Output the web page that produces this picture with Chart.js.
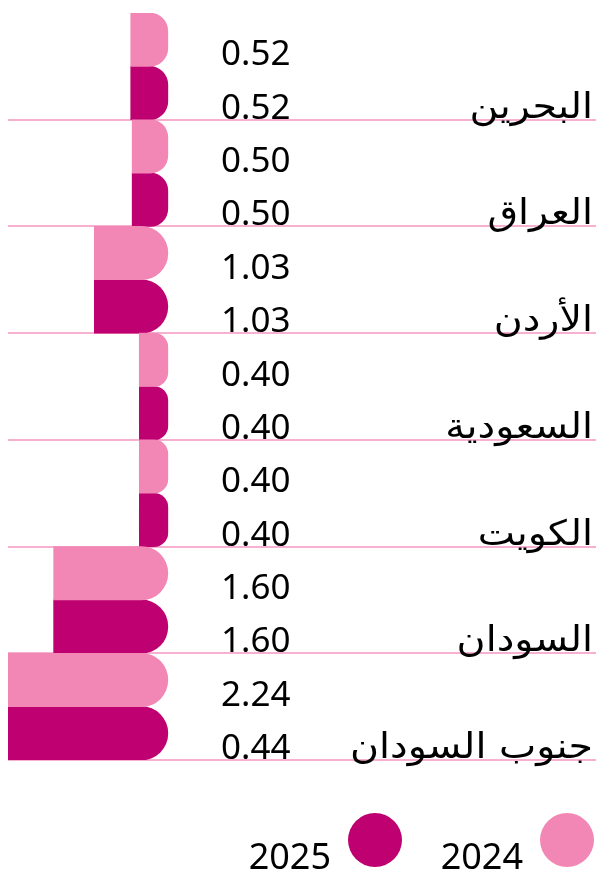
<!DOCTYPE html>
<html lang="ar">
<head>
<meta charset="utf-8">
<script src="https://cdn.jsdelivr.net/npm/chart.js@4/dist/chart.umd.min.js"></script>
<style>
  body { margin: 0; background: #fff; }
  #wrap { width: 596px; height: 870px; position: relative; }
</style>
</head>
<body>
<div id="wrap"><canvas id="mycanvas"></canvas></div>
<script>
// countries, top to bottom
var countries = ['البحرين', 'العراق', 'الأردن', 'السعودية', 'الكويت', 'السودان', 'جنوب السودان'];
var years = ['2024', '2025'];
// bar lengths as drawn
var values2024 = [0.52, 0.50, 1.03, 0.40, 0.40, 1.60, 2.24];
var values2025 = [0.52, 0.50, 1.03, 0.40, 0.40, 1.60, 2.24];
// printed numbers (last 2025 label differs from its bar in the source)
var text2024 = ['0.52', '0.50', '1.03', '0.40', '0.40', '1.60', '2.24'];
var text2025 = ['0.52', '0.50', '1.03', '0.40', '0.40', '1.60', '0.44'];

var pink = '#f287b5';
var magenta = '#be0070';
var gridPink = '#f7b0d0';
var fontFam = '"Noto Sans", "DejaVu Sans", sans-serif';
var arabicFam = '"DejaVu Sans", sans-serif';

var valueLabels = {
  id: 'valueLabels',
  afterDatasetsDraw: function(chart) {
    var ctx = chart.ctx;
    var texts = [text2024, text2025];
    ctx.save();
    ctx.fillStyle = '#000';
    ctx.font = '35px ' + fontFam;
    ctx.textAlign = 'left';
    ctx.textBaseline = 'alphabetic';
    chart.data.datasets.forEach(function(ds, di) {
      var meta = chart.getDatasetMeta(di);
      meta.data.forEach(function(bar, i) {
        ctx.fillText(texts[di][i], 221, bar.y + bar.height / 2 - 1);
      });
    });

    // category names, right aligned, sitting on the band's lower line
    var y = chart.scales.y;
    var band = (y.bottom - y.top) / countries.length;
    ctx.font = '35px ' + arabicFam;
    ctx.textAlign = 'right';
    ctx.direction = 'rtl';
    countries.forEach(function(c, i) {
      ctx.save();
      ctx.translate(593, y.getPixelForValue(i) + band / 2 - 2);
      ctx.scale(1.13, 1);
      ctx.fillText(c, 0, 0);
      ctx.restore();
    });
    ctx.restore();
  }
};

var dotLegend = {
  id: 'dotLegend',
  afterDraw: function(chart) {
    var ctx = chart.ctx;
    var items = [
      { text: years[0], color: pink, cx: 567 },
      { text: years[1], color: magenta, cx: 375 }
    ];
    ctx.save();
    ctx.font = '36px ' + fontFam;
    ctx.textAlign = 'right';
    ctx.textBaseline = 'alphabetic';
    items.forEach(function(it) {
      ctx.beginPath();
      ctx.arc(it.cx, 840, 27, 0, Math.PI * 2);
      ctx.fillStyle = it.color;
      ctx.fill();
      ctx.fillStyle = '#000';
      ctx.fillText(it.text, it.cx - 44, 869);
    });
    ctx.restore();
  }
};

var corner = { topLeft: 0, bottomLeft: 0, topRight: 27, bottomRight: 27 };

new Chart(document.getElementById('mycanvas'), {
  type: 'bar',
  data: {
    labels: countries,
    datasets: [
      { label: years[0], data: values2024, backgroundColor: pink,
        borderSkipped: false, borderRadius: corner },
      { label: years[1], data: values2025, backgroundColor: magenta,
        borderSkipped: false, borderRadius: corner }
    ]
  },
  options: {
    indexAxis: 'y',
    responsive: true,
    maintainAspectRatio: false,
    animation: false,
    layout: { padding: { top: 13, bottom: 110, left: 8, right: 0 } },
    datasets: { bar: { categoryPercentage: 1, barPercentage: 1 } },
    scales: {
      x: { display: false, reverse: true, min: -6, max: 2.24 },
      y: {
        ticks: { display: false },
        border: { display: false },
        grid: {
          offset: true,
          drawTicks: false,
          color: gridPink,
          lineWidth: function(c) { return c.index === 0 ? 0 : 2; }
        }
      }
    },
    plugins: {
      legend: { display: false },
      tooltip: { enabled: false }
    }
  },
  plugins: [valueLabels, dotLegend]
});
</script>
</body>
</html>
